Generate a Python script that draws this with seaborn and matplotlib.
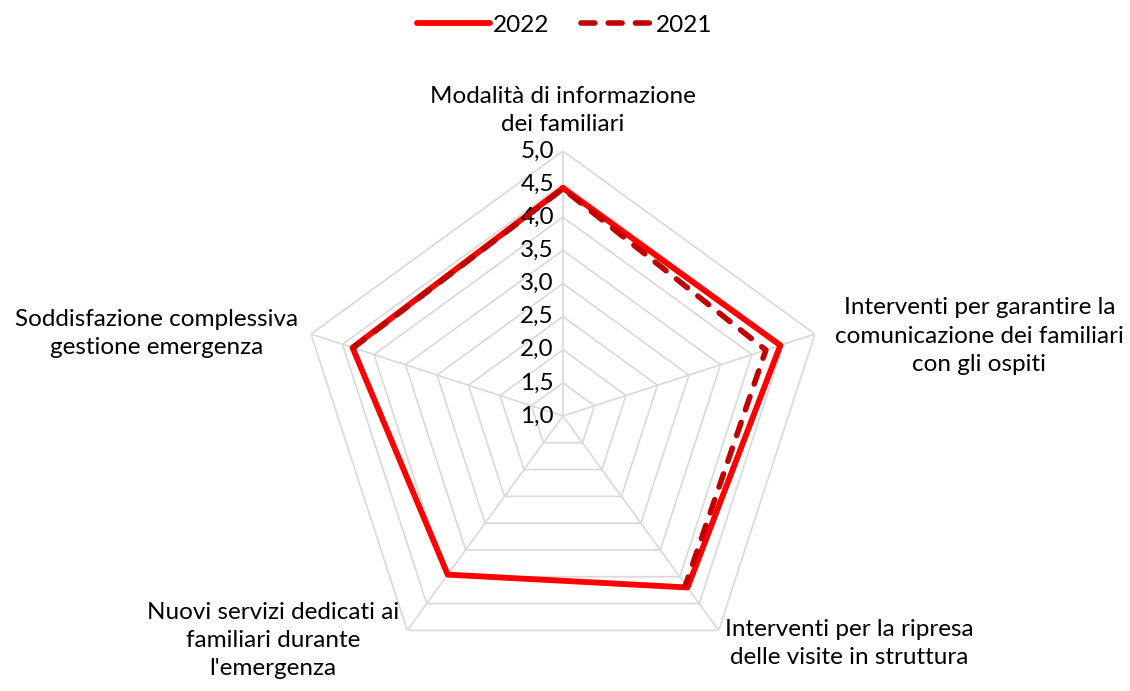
import numpy as np
import pandas as pd
import seaborn as sns
import matplotlib.pyplot as plt

sns.set_style("white")
plt.rcParams['font.family'] = ['Lato', 'DejaVu Sans']
plt.rcParams['text.color'] = 'black'

categories = [
    "Modalità di informazione\ndei familiari",
    "Interventi per garantire la\ncomunicazione dei familiari\ncon gli ospiti",
    "Interventi per la ripresa\ndelle visite in struttura",
    "Nuovi servizi dedicati ai\nfamiliari durante\nl'emergenza",
    "Soddisfazione complessiva\ngestione emergenza",
]
values_2022 = [4.44, 4.45, 4.20, 3.96, 4.34]
values_2021 = [4.43, 4.22, 4.15, np.nan, 4.33]
rings = [1.5, 2.0, 2.5, 3.0, 3.5, 4.0, 4.5, 5.0]
tick_values = [1.0, 1.5, 2.0, 2.5, 3.0, 3.5, 4.0, 4.5, 5.0]

n = len(categories)
angles = np.linspace(0, 2 * np.pi, n, endpoint=False)
fs = 17.5
dash = [2.5, 2.4]

fig = plt.figure(figsize=(11.3, 6.91), dpi=100)
ax = fig.add_axes([0.2637, 0.0145, 0.469, 0.767], projection="polar")
ax.set_theta_zero_location("N")
ax.set_theta_direction(-1)
ax.set_ylim(1.0, 5.0)
ax.grid(False)
ax.spines["polar"].set_visible(False)
ax.set_xticks([])
ax.set_yticks([])
ax.patch.set_alpha(0)

grid_col = "#D9D9D9"
closed = np.append(angles, angles[0])
for r in rings:
    ax.plot(closed, [r] * (n + 1), color=grid_col, lw=1.2, zorder=1)
for a in angles:
    ax.plot([a, a], [1.0, 5.0], color=grid_col, lw=1.2, zorder=1)


def path(vals):
    # order the points so a missing value becomes the open end of the line
    vals = np.asarray(vals, dtype=float)
    if np.isnan(vals).any():
        k = int(np.where(np.isnan(vals))[0][0])
        idx = [(k + 1 + i) % n for i in range(n - 1)]
    else:
        idx = list(range(n)) + [0]
    th = np.unwrap([angles[i] for i in idx])
    return pd.DataFrame({"theta": th, "value": vals[idx]})


d22 = path(values_2022)
d21 = path(values_2021)
sns.lineplot(data=d22, x="theta", y="value", sort=False, ax=ax, color="#FF0000",
             lw=4.2, label="2022", zorder=3)
sns.lineplot(data=d21, x="theta", y="value", sort=False, ax=ax, color="#C00000",
             lw=4.0, label="2021", zorder=4)
ax.lines[-1].set_dashes(dash)
ax.lines[-1].set_dash_capstyle("round")
ax.set_xlabel("")
ax.set_ylabel("")
ax.set_ylim(1.0, 5.0)

for v in tick_values:
    ax.annotate(f"{v:.1f}".replace(".", ","), xy=(0, v), xytext=(-9, 0),
                textcoords="offset pixels", ha="right", va="center", fontsize=fs)

label_pos = [
    ((0, 16), "center", "bottom"),
    ((20, -2), "left", "center"),
    ((6, -13), "left", "center"),
    ((-8, -10), "right", "center"),
    ((-13, 1), "right", "center"),
]
for a, lab, (off, ha, va) in zip(angles, categories, label_pos):
    ax.annotate(lab, xy=(a, 5.0), xytext=off, textcoords="offset pixels",
                ha=ha, va=va, multialignment="center", fontsize=fs,
                linespacing=1.42, annotation_clip=False)

ax.get_legend().remove()
h, l = ax.get_legend_handles_labels()
h[1].set_dashes(dash)
h[1].set_dash_capstyle("round")
h[0].set_solid_capstyle("round")
fig.legend(h, l, loc="upper center", bbox_to_anchor=(0.5, 1.01), ncol=2,
           frameon=False, fontsize=fs, handlelength=3.0, columnspacing=1.3,
           handletextpad=0.1)

fig.savefig("out.png", dpi=100)
